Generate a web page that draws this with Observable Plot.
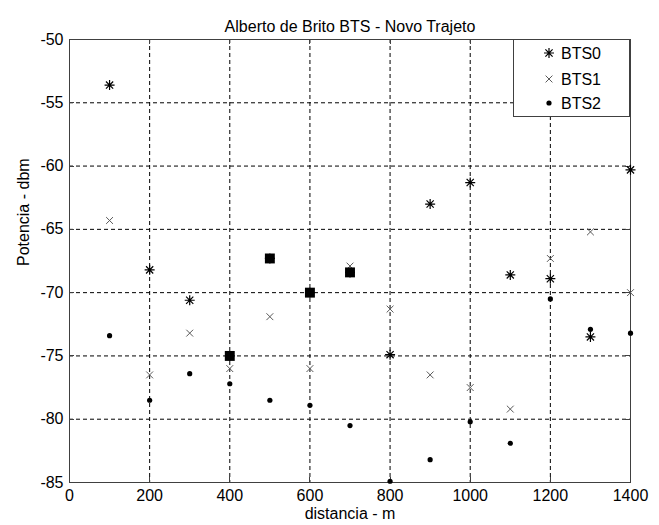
<!DOCTYPE html>
<html><head><meta charset="utf-8">
<script src="https://cdn.jsdelivr.net/npm/d3@7"></script>
<script src="https://cdn.jsdelivr.net/npm/@observablehq/plot@0.6"></script>
<style>body{margin:0;background:#fff}</style>
</head><body><div id="chart"></div>
<script>
const distancia = [100,200,300,400,500,600,700,800,900,1000,1100,1200,1300,1400];
const bts0 = [-53.6,-68.2,-70.6,-75.0,-67.3,-70.0,-68.4,-74.9,-63.0,-61.3,-68.6,-68.9,-73.5,-60.3];
const bts1 = [-64.3,-76.5,-73.2,-76.0,-71.9,-76.0,-67.9,-71.3,-76.5,-77.5,-79.2,-67.3,-65.2,-70.0];
const bts2 = [-73.4,-78.5,-76.4,-77.2,-78.5,-78.9,-80.5,-84.9,-83.2,-80.2,-81.9,-70.5,-72.9,-73.2];
const destaqueX = [400,500,600,700];
const destaqueY = [-75.0,-67.3,-70.0,-68.4];
const xTicks = [0,200,400,600,800,1000,1200,1400];
const yTicks = [-85,-80,-75,-70,-65,-60,-55,-50];
const seriesNames = ["BTS0","BTS1","BTS2"];
const title = "Alberto de Brito BTS - Novo Trajeto";
const xLabel = "distancia - m";
const yLabel = "Potencia - dbm";

const pts = (ys) => distancia.map((d,i)=>({x:d,y:ys[i]}));
const hl = destaqueX.map((d,i)=>({x:d,y:destaqueY[i]}));
const AX = "#404040";
const GRAY = "#5a5a5a";
const font = "Arial, 'Liberation Sans', sans-serif";
const FS = 16;

// 8-armed star like MATLAB '*'
const star = {
  draw(ctx, size) {
    const r = Math.sqrt(size / Math.PI);
    const d = r * 0.72;
    ctx.moveTo(-r, 0); ctx.lineTo(r, 0);
    ctx.moveTo(0, -r); ctx.lineTo(0, r);
    ctx.moveTo(-d, -d); ctx.lineTo(d, d);
    ctx.moveTo(-d, d); ctx.lineTo(d, -d);
  }
};

function ticksMark(index, scales, values, dim) {
  const g = d3.create("svg:g").attr("stroke", AX).attr("stroke-width", 1);
  const L = dim.marginLeft, R = dim.width - dim.marginRight, T = dim.marginTop, B = dim.height - dim.marginBottom;
  const len = 5;
  for (const t of xTicks) {
    const x = Math.round(scales.x(t)) + 0.5;
    g.append("line").attr("x1", x).attr("x2", x).attr("y1", B).attr("y2", B - len);
    g.append("line").attr("x1", x).attr("x2", x).attr("y1", T).attr("y2", T + len);
  }
  for (const t of yTicks) {
    const y = Math.round(scales.y(t)) + 0.5;
    g.append("line").attr("y1", y).attr("y2", y).attr("x1", L).attr("x2", L + len);
    g.append("line").attr("y1", y).attr("y2", y).attr("x1", R).attr("x2", R - len);
  }
  return g.node();
}

function legendMark(index, scales, values, dim) {
  const g = d3.create("svg:g");
  const right = dim.width - dim.marginRight;
  const top = dim.marginTop;
  const w = 117, h = 77;
  g.append("rect").attr("x", right - w + 0.5).attr("y", top + 0.5).attr("width", w - 1).attr("height", h)
    .attr("fill", "#fff").attr("stroke", AX).attr("stroke-width", 1);
  const rowY = [14, 40, 64];
  const mx = right - w + 36, tx = right - w + 68;
  seriesNames.forEach((name, i) => {
    const y = top + rowY[i];
    if (i === 0) {
      g.append("path").attr("d", d3.symbol(star, Math.PI * 25)()).attr("transform", `translate(${mx},${y})`).attr("stroke","#000").attr("fill","none").attr("stroke-width",1.2);
    } else if (i === 1) {
      g.append("path").attr("d", d3.symbol(d3.symbolTimes, Math.PI * 3.2 * 3.2)()).attr("transform", `translate(${mx},${y})`).attr("stroke",GRAY).attr("fill","none").attr("stroke-width",1);
    } else {
      g.append("circle").attr("cx", mx).attr("cy", y).attr("r", 2.6).attr("fill","#000");
    }
    g.append("text").attr("x", tx).attr("y", y).attr("dy","0.36em").attr("font-size", FS).attr("font-family", font).attr("fill","#000").text(name);
  });
  return g.node();
}

const chart = Plot.plot({
  width: 659, height: 525,
  marginLeft: 69, marginRight: 29, marginTop: 39, marginBottom: 43,
  style: {fontFamily: font, fontSize: FS + "px", background: "#fff", color: "#000"},
  x: {domain: [0,1400], ticks: xTicks},
  y: {domain: [-85,-50], ticks: yTicks},
  marks: [
    Plot.ruleX(xTicks.slice(1,-1), {stroke: "#000", strokeDasharray: "4,3", strokeWidth: 1}),
    Plot.ruleY(yTicks.slice(1,-1), {stroke: "#000", strokeDasharray: "4,3", strokeWidth: 1}),
    Plot.axisX({anchor: "bottom", ticks: xTicks, tickSize: 0, tickPadding: 7, tickFormat: d => String(d), label: null}),
    Plot.axisY({anchor: "left", ticks: yTicks, tickSize: 0, tickPadding: 6, tickFormat: d => String(d), label: null}),
    ticksMark,
    Plot.frame({stroke: AX, strokeWidth: 1}),
    Plot.dot(pts(bts2), {x: "x", y: "y", r: 2.6, fill: "#000"}),
    Plot.dot(pts(bts1), {x: "x", y: "y", symbol: "times", r: 3.2, stroke: GRAY, strokeWidth: 1}),
    Plot.dot(pts(bts0), {x: "x", y: "y", symbol: star, r: 5, stroke: "#000", strokeWidth: 1.2}),
    Plot.dot(hl, {x: "x", y: "y", symbol: "square", r: 5.6, fill: "#000"}),
    Plot.text([title], {frameAnchor: "top", dy: -18.5, fontSize: FS, text: d => d}),
    Plot.text([xLabel], {frameAnchor: "bottom", dy: 36, fontSize: FS, text: d => d}),
    Plot.text([yLabel], {frameAnchor: "left", dx: -46, dy: 5, rotate: -90, fontSize: FS, text: d => d}),
    legendMark
  ]
});
document.getElementById("chart").append(chart);
</script></body></html>
